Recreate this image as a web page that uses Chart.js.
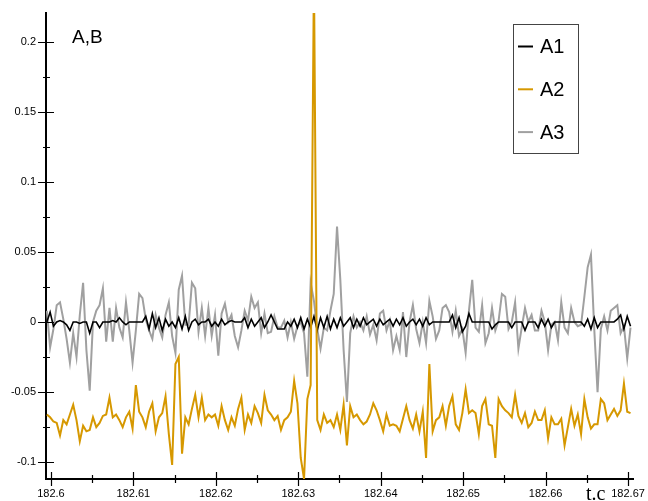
<!DOCTYPE html>
<html>
<head>
<meta charset="utf-8">
<script src="https://cdn.jsdelivr.net/npm/chart.js@4.4.1/dist/chart.umd.min.js"></script>
<style>
  html, body { margin: 0; padding: 0; background: #fff; }
  canvas { display: block; }
</style>
</head>
<body>
<canvas id="chart" width="648" height="501"></canvas>
<script>
// sampling of the time axis (t.c)
const T0 = 182.5995;
const DT = 0.0004;

const SERIES_NAMES = ['A1', 'A2', 'A3'];
const SERIES_COLORS = ['#000000', '#d69800', '#a0a0a0'];

const A1 = [
  0.000, 0.007, -0.003, 0.000, 0.001, 0.000, -0.002, -0.006, 0.000, 0.000,
  -0.001, 0.000, 0.000, -0.008, 0.000, 0.000, -0.004, 0.000, 0.000, 0.000,
  0.001, 0.000, 0.003, 0.000, -0.002, 0.000, 0.000, 0.000, 0.000, 0.000,
  0.004, -0.005, 0.006, -0.004, 0.003, -0.006, 0.002, -0.003, 0.000, -0.004,
  0.003, -0.005, 0.004, -0.006, 0.000, 0.002, -0.002, 0.000, 0.000, 0.002,
  -0.003, 0.000, -0.003, 0.002, -0.002, 0.000, 0.001, 0.000, 0.000, 0.000,
  0.003, -0.004, 0.002, -0.003, 0.000, 0.003, -0.004, 0.000, 0.005, 0.000,
  -0.005, -0.005, -0.005, 0.000, -0.003, 0.002, -0.004, 0.003, -0.005, 0.002,
  -0.004, 0.004, -0.006, 0.003, -0.004, 0.004, -0.005, 0.002, -0.004, 0.003,
  -0.003, 0.000, 0.003, -0.004, 0.002, -0.003, 0.003, -0.002, 0.000, 0.002,
  -0.003, 0.002, -0.002, 0.000, 0.002, -0.003, 0.002, -0.002, 0.003, -0.003,
  0.000, 0.002, -0.002, 0.002, -0.003, 0.003, -0.002, 0.000, 0.000, 0.000,
  0.000, 0.000, 0.000, 0.005, -0.004, 0.003, -0.007, -0.003, 0.006, 0.000,
  0.000, 0.000, 0.000, 0.000, 0.000, -0.005, -0.002, 0.000, 0.000, 0.000,
  0.000, -0.004, 0.000, 0.000, 0.000, -0.006, 0.000, 0.000, 0.000, -0.004,
  0.002, -0.003, 0.002, -0.004, 0.000, 0.000, 0.000, 0.000, 0.000, 0.000,
  0.000, 0.000, 0.000, -0.003, 0.002, -0.005, 0.003, -0.004, 0.000, 0.000,
  0.000, 0.000, 0.000, 0.002, 0.005, -0.005, 0.004, -0.003
];

const A2 = [
  -0.066, -0.068, -0.071, -0.072, -0.081, -0.070, -0.073, -0.066, -0.059, -0.070,
  -0.085, -0.074, -0.078, -0.077, -0.068, -0.075, -0.072, -0.067, -0.066, -0.054,
  -0.068, -0.066, -0.070, -0.075, -0.068, -0.064, -0.076, -0.045, -0.064, -0.068,
  -0.075, -0.064, -0.058, -0.078, -0.068, -0.065, -0.053, -0.080, -0.102, -0.030,
  -0.025, -0.094, -0.068, -0.073, -0.062, -0.052, -0.068, -0.054, -0.070, -0.066,
  -0.068, -0.066, -0.074, -0.060, -0.070, -0.077, -0.068, -0.074, -0.062, -0.054,
  -0.077, -0.066, -0.072, -0.060, -0.065, -0.072, -0.052, -0.063, -0.066, -0.070,
  -0.067, -0.077, -0.070, -0.068, -0.064, -0.042, -0.058, -0.097, -0.112, -0.055,
  -0.045, 0.250, -0.070, -0.077, -0.066, -0.072, -0.070, -0.075, -0.066, -0.077,
  -0.059, -0.088, -0.060, -0.068, -0.066, -0.070, -0.073, -0.071, -0.066, -0.058,
  -0.063, -0.070, -0.078, -0.066, -0.074, -0.073, -0.074, -0.078, -0.069, -0.060,
  -0.070, -0.076, -0.066, -0.078, -0.064, -0.097, -0.030, -0.078, -0.070, -0.068,
  -0.060, -0.074, -0.060, -0.053, -0.073, -0.077, -0.065, -0.048, -0.065, -0.063,
  -0.065, -0.080, -0.060, -0.055, -0.073, -0.074, -0.097, -0.055, -0.060, -0.063,
  -0.065, -0.068, -0.052, -0.067, -0.072, -0.065, -0.075, -0.072, -0.064, -0.070,
  -0.070, -0.063, -0.083, -0.068, -0.073, -0.073, -0.069, -0.088, -0.075, -0.062,
  -0.074, -0.066, -0.080, -0.055, -0.068, -0.076, -0.073, -0.073, -0.055, -0.058,
  -0.070, -0.066, -0.062, -0.067, -0.063, -0.044, -0.064, -0.065
];

const A3 = [
  0.008, -0.018, -0.005, 0.012, 0.014, 0.002, -0.012, -0.029, -0.008, -0.025,
  0.005, 0.028, -0.020, -0.049, 0.000, 0.008, 0.012, 0.024, -0.014, 0.010,
  -0.014, 0.010, -0.004, -0.011, 0.014, -0.006, -0.029, -0.006, 0.020, 0.017,
  0.002, -0.006, -0.012, 0.005, -0.004, -0.011, 0.005, 0.014, -0.010, -0.022,
  0.023, 0.033, -0.002, -0.002, 0.028, 0.024, -0.007, 0.010, -0.010, 0.010,
  -0.010, 0.005, -0.024, 0.006, 0.013, 0.000, 0.005, -0.010, -0.018, -0.006,
  0.008, 0.001, 0.018, 0.010, 0.014, -0.008, 0.006, -0.008, -0.007, 0.004,
  -0.004, -0.004, 0.001, -0.011, 0.000, -0.012, -0.003, 0.000, -0.008, -0.039,
  0.028, 0.015, -0.005, -0.019, -0.004, -0.006, 0.008, 0.020, 0.068, 0.030,
  -0.020, -0.057, -0.008, 0.004, -0.004, 0.000, -0.006, 0.004, -0.009, -0.002,
  -0.013, 0.006, 0.008, -0.006, 0.001, -0.020, -0.010, -0.020, 0.007, -0.025,
  0.000, 0.012, -0.005, -0.015, 0.000, -0.015, 0.015, 0.004, -0.012, -0.006,
  0.010, 0.012, 0.007, -0.007, 0.008, -0.010, -0.005, -0.022, 0.008, 0.030,
  -0.004, -0.007, 0.012, -0.015, -0.008, 0.010, -0.006, 0.001, 0.020, 0.018,
  -0.005, 0.000, 0.014, -0.019, -0.004, 0.010, 0.000, 0.005, -0.006, -0.006,
  0.008, 0.000, -0.020, -0.002, 0.000, -0.013, 0.014, -0.004, -0.008, 0.010,
  0.000, -0.003, -0.002, 0.018, 0.039, 0.048, -0.005, -0.050, -0.005, 0.004,
  -0.006, 0.008, 0.010, 0.012, -0.008, -0.003, -0.026, -0.004
];

const X_TICKS = [182.60, 182.61, 182.62, 182.63, 182.64, 182.65, 182.66, 182.67];
const X_TICK_LABELS = ['182.6', '182.61', '182.62', '182.63', '182.64', '182.65', '182.66', '182.67'];
const X_MINOR = [182.605, 182.615, 182.625, 182.635, 182.645, 182.655, 182.665];
const Y_TICKS = [-0.1, -0.05, 0, 0.05, 0.1, 0.15, 0.2];
const Y_TICK_LABELS = ['-0.1', '-0.05', '0', '0.05', '0.1', '0.15', '0.2'];
const Y_MINOR = [-0.075, -0.025, 0.025, 0.075, 0.125, 0.175];

const X_MIN = 182.5994, X_MAX = 182.6706;
const Y_MIN = -0.112, Y_MAX = 0.2204;

function toPoints(values) {
  return values.map((v, i) => ({ x: T0 + i * DT, y: v }));
}

// ticks that cross the axis line, the in-plot labels and the boxed legend
const decorations = {
  id: 'decorations',
  afterDraw(chart) {
    const { ctx, chartArea, scales } = chart;
    const xs = scales.x, ys = scales.y;
    ctx.save();
    ctx.strokeStyle = '#000';
    ctx.lineWidth = 1.2;
    ctx.beginPath();
    X_TICKS.forEach(v => {
      const px = Math.round(xs.getPixelForValue(v)) + 0.5;
      ctx.moveTo(px, chartArea.bottom - 7);
      ctx.lineTo(px, chartArea.bottom + 7);
    });
    X_MINOR.forEach(v => {
      const px = Math.round(xs.getPixelForValue(v)) + 0.5;
      ctx.moveTo(px, chartArea.bottom - 4);
      ctx.lineTo(px, chartArea.bottom + 4);
    });
    Y_TICKS.forEach(v => {
      const py = Math.round(ys.getPixelForValue(v)) + 0.5;
      ctx.moveTo(chartArea.left - 8, py);
      ctx.lineTo(chartArea.left + 8, py);
    });
    Y_MINOR.forEach(v => {
      const py = Math.round(ys.getPixelForValue(v)) + 0.5;
      ctx.moveTo(chartArea.left - 3, py);
      ctx.lineTo(chartArea.left + 4, py);
    });
    ctx.stroke();

    ctx.fillStyle = '#000';
    ctx.textBaseline = 'alphabetic';
    ctx.textAlign = 'left';
    ctx.font = '19px "Liberation Sans", Arial, sans-serif';
    ctx.fillText('A,B', 72, 43);
    ctx.font = '20px "Liberation Serif", "Times New Roman", serif';
    ctx.fillText('t.c', 586, 500);

    // legend
    ctx.strokeStyle = '#444';
    ctx.lineWidth = 1;
    ctx.strokeRect(513.5, 24.5, 65, 129);
    ctx.font = '20px "Liberation Sans", Arial, sans-serif';
    ctx.textBaseline = 'middle';
    chart.data.datasets.forEach((ds, i) => {
      const y = 46.5 + i * 42.8;
      ctx.strokeStyle = ds.borderColor;
      ctx.lineWidth = 2;
      ctx.beginPath();
      ctx.moveTo(518, y);
      ctx.lineTo(533, y);
      ctx.stroke();
      ctx.fillStyle = '#000';
      ctx.fillText(ds.label, 540, y + 1);
    });
    ctx.restore();
  }
};

new Chart(document.getElementById('chart'), {
  type: 'line',
  data: {
    datasets: [
      { label: SERIES_NAMES[0], data: toPoints(A1), borderColor: SERIES_COLORS[0], borderWidth: 1.6, order: 1 },
      { label: SERIES_NAMES[1], data: toPoints(A2), borderColor: SERIES_COLORS[1], borderWidth: 2, order: 0 },
      { label: SERIES_NAMES[2], data: toPoints(A3), borderColor: SERIES_COLORS[2], borderWidth: 2, order: 2 }
    ]
  },
  options: {
    responsive: false,
    animation: false,
    devicePixelRatio: 1,
    layout: { padding: { left: 0, right: 15, top: 13, bottom: 0 } },
    elements: { point: { radius: 0 }, line: { tension: 0, fill: false } },
    plugins: { legend: { display: false }, tooltip: { enabled: false } },
    scales: {
      x: {
        type: 'linear',
        min: X_MIN,
        max: X_MAX,
        afterFit: s => { s.height = 22; s.paddingLeft = 0; s.paddingRight = 0; },
        afterBuildTicks: s => { s.ticks = X_TICKS.map(v => ({ value: v })); },
        grid: { display: true, drawOnChartArea: false, drawTicks: false },
        border: { display: true, color: '#000', width: 2 },
        ticks: {
          autoSkip: false,
          maxRotation: 0,
          padding: 8,
          color: '#000',
          font: { family: '"Liberation Sans", Arial, sans-serif', size: 11 },
          callback: (v, i) => X_TICK_LABELS[i]
        }
      },
      y: {
        type: 'linear',
        min: Y_MIN,
        max: Y_MAX,
        afterFit: s => { s.width = 46; s.paddingTop = 0; s.paddingBottom = 0; },
        afterBuildTicks: s => { s.ticks = Y_TICKS.map(v => ({ value: v })); },
        grid: { display: true, drawOnChartArea: false, drawTicks: false },
        border: { display: true, color: '#000', width: 2 },
        ticks: {
          padding: 10,
          color: '#000',
          font: { family: '"Liberation Sans", Arial, sans-serif', size: 11 },
          callback: (v, i) => Y_TICK_LABELS[i]
        }
      }
    }
  },
  plugins: [decorations]
});
</script>
</body>
</html>
